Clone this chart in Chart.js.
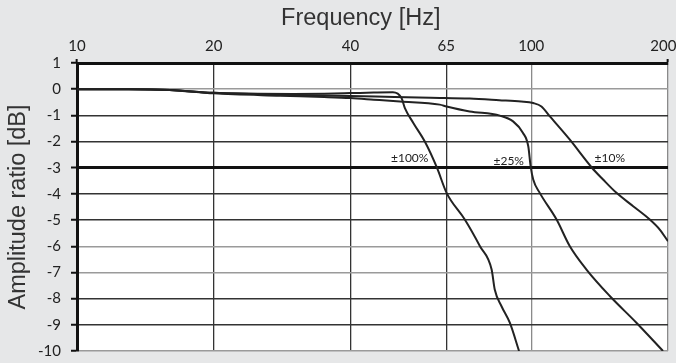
<!DOCTYPE html>
<html>
<head>
<meta charset="utf-8">
<script src="https://cdn.jsdelivr.net/npm/chart.js@4/dist/chart.umd.min.js"></script>
<style>
html,body{margin:0;padding:0;background:#e6e7e8;}
#wrap{width:676px;height:363px;}
</style>
</head>
<body>
<div id="wrap"><canvas id="c" width="676" height="363"></canvas></div>
<script>
// Frequency tick labels (Hz) and amplitude ticks
const xTicks = [10, 20, 40, 65, 100, 200];

// ±100% curve
const freq100 = [10, 13, 16, 20, 25, 30, 35, 40, 45, 49.6, 51.8, 52.7, 55, 58.3, 62, 65.1, 71.4, 77.1, 81.8, 83.1, 86.0, 89.7, 94];
const amp100  = [0, 0, -0.03, -0.14, -0.17, -0.18, -0.17, -0.15, -0.13, -0.12, -0.34, -0.72, -1.29, -2.0, -3.0, -3.96, -4.98, -6.0, -6.89, -7.65, -8.29, -8.92, -10];

// ±25% curve
const freq25 = [10, 13, 16, 20, 28, 35, 40, 45, 51.4, 62.9, 65.1, 73.2, 85.3, 91.2, 95.9, 98.5, 99.7, 101, 104.4, 113.7, 121.6, 132.3, 148.9, 170.4, 195];
const amp25  = [0, 0, -0.03, -0.16, -0.25, -0.3, -0.34, -0.4, -0.47, -0.59, -0.66, -0.85, -1.01, -1.23, -1.67, -2.18, -2.95, -3.45, -3.96, -4.98, -6.0, -6.89, -7.9, -8.92, -10];

// ±10% curve
const freq10 = [10, 13, 16, 20, 28, 40, 50, 60, 73.2, 85, 95, 101, 105.3, 109.9, 121.6, 136, 143.9, 154, 167.6, 182.4, 191.8, 200];
const amp10  = [0, 0, -0.03, -0.14, -0.21, -0.26, -0.3, -0.33, -0.36, -0.42, -0.47, -0.53, -0.66, -1.04, -1.93, -3.0, -3.45, -3.96, -4.47, -4.98, -5.36, -5.81];

// Curve labels
const labelText = ['±100%', '±25%', '±10%'];
const labelFreq = [54.0, 89.2, 148.9];
const labelAmp  = [-2.65, -2.73, -2.65];

const toXY = (f, a) => f.map((v, i) => ({x: v, y: a[i]}));

const bgPlugin = {
  id: 'bg',
  beforeDraw(chart) {
    const {ctx, chartArea: a} = chart;
    ctx.save();
    ctx.fillStyle = '#e6e7e8';
    ctx.fillRect(0, 0, chart.width, chart.height);
    ctx.fillStyle = '#ffffff';
    ctx.fillRect(a.left, a.top, a.right - a.left, a.bottom - a.top);
    ctx.restore();
  }
};

const labelPlugin = {
  id: 'curveLabels',
  afterDatasetsDraw(chart) {
    const {ctx, scales: {x, y}} = chart;
    ctx.save();
    ctx.font = '12px Lato';
    ctx.fillStyle = '#222';
    ctx.textAlign = 'center';
    ctx.textBaseline = 'middle';
    labelText.forEach((t, i) => {
      ctx.fillText(t, x.getPixelForValue(labelFreq[i]), y.getPixelForValue(labelAmp[i]));
    });
    ctx.restore();
  }
};

const lineStyle = {borderColor: '#222', borderWidth: 2, pointRadius: 0, fill: false, cubicInterpolationMode: 'monotone'};

new Chart(document.getElementById('c'), {
  type: 'line',
  data: {
    datasets: [
      Object.assign({label: '±100%', data: toXY(freq100, amp100)}, lineStyle),
      Object.assign({label: '±25%', data: toXY(freq25, amp25)}, lineStyle),
      Object.assign({label: '±10%', data: toXY(freq10, amp10)}, lineStyle)
    ]
  },
  options: {
    responsive: false,
    animation: false,
    layout: {padding: {left: 0, right: 8, top: 0, bottom: 12}},
    plugins: {legend: {display: false}, tooltip: {enabled: false}},
    scales: {
      x: {
        type: 'logarithmic',
        position: 'top',
        min: 10,
        max: 200,
        afterBuildTicks: (s) => { s.ticks = xTicks.map(v => ({value: v})); },
        afterFit: (s) => { s.height = 63; s.paddingLeft = 0; s.paddingRight = 0; },
        ticks: {
          autoSkip: false, maxRotation: 0, padding: 4,
          color: '#222', font: {family: 'Lato', size: 15},
          callback: (v) => v === 200 ? '200\u2002\u2009' : String(v)
        },
        grid: {
          drawTicks: true,
          tickLength: 4,
          tickWidth: 2,
          tickColor: (c) => (c.tick && (c.tick.value === 10 || c.tick.value === 200)) ? '#111' : 'rgba(0,0,0,0)',
          color: (c) => (c.tick && (c.tick.value === 100 || c.tick.value === 200)) ? '#8a8a8a' : '#333',
          lineWidth: 1.3
        },
        border: {color: '#111', width: 3},
        title: {display: true, text: 'Frequency [Hz]\u2003', color: '#333', font: {family: 'Liberation Sans', size: 23.5}, padding: {top: 4, bottom: 0}}
      },
      y: {
        type: 'linear',
        min: -10,
        max: 1,
        afterFit: (s) => { s.width = 77; s.paddingTop = 0; s.paddingBottom = 0; },
        ticks: {stepSize: 1, padding: 10, color: '#222', font: {family: 'Lato', size: 15}},
        grid: {
          color: (c) => {
            const v = c.tick ? c.tick.value : 0;
            if (v === -3) return '#111';
            if (v === 0 || v === -6 || v === -7 || v === -10) return '#9a9a9a';
            return '#333';
          },
          lineWidth: (c) => (c.tick && c.tick.value === -3) ? 3 : 1.5,
          tickLength: 6,
          tickColor: '#111',
          tickWidth: 2
        },
        border: {color: '#111', width: 3},
        title: {display: true, text: 'Amplitude ratio [dB]', color: '#333', font: {family: 'Liberation Sans', size: 23.5}, padding: {top: 4, bottom: 0}}
      }
    }
  },
  plugins: [bgPlugin, labelPlugin]
});
</script>
</body>
</html>
